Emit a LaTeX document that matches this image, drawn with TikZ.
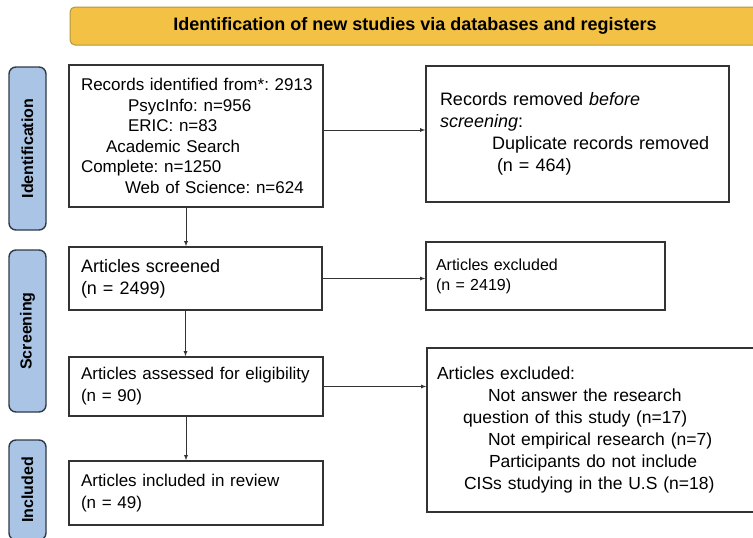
\documentclass[tikz,border=0pt]{standalone}
\usepackage{fontspec}
\setmainfont{Liberation Sans}
\usetikzlibrary{calc}

\definecolor{bannerfill}{HTML}{F3C244}
\definecolor{bannerline}{HTML}{B3963A}
\definecolor{tabfill}{HTML}{A9C4E4}
\definecolor{tabline}{HTML}{2F3A48}
\definecolor{boxline}{HTML}{333333}

\begin{document}
\frenchspacing
\begin{tikzpicture}[x=1pt,y=-1pt,
    box/.style={draw=boxline,line width=1.4pt,fill=white,align=left,
      inner xsep=10pt,font=\fontsize{17}{22}\selectfont},
    tab/.style={draw=tabline,fill=tabfill,line width=1.4pt,rounded corners=7pt,
      minimum height=37pt,rotate=90,font=\fontsize{16}{18}\selectfont\bfseries},
    flow/.style={draw=boxline,line width=0.8pt,-latex}]
  \useasboundingbox (0,0) rectangle (753,538);
  \clip (0,0) rectangle (753,538);

  \node[draw=bannerline,fill=bannerfill,line width=1pt,rounded corners=5pt,
    minimum width=690pt,minimum height=38pt,font=\fontsize{18}{20}\selectfont\bfseries]
    (banner) at (415,26) {Identification of new studies via databases and registers};

  \node[tab,minimum width=163pt] (identtab) at (27.5,148.5) {Identification};
  \node[tab,minimum width=162pt] (screentab) at (27.5,331) {Screening};
  \node[tab,minimum width=100pt] (incltab) at (27.5,490) {Included};

  \node[box,text width=234pt,minimum height=142pt,font=\fontsize{17}{20.5}\selectfont]
    (records) at (196,136) {\hspace*{2pt}Records identified from*: 2913\\
    \hspace*{49pt}PsycInfo: n=956\\
    \hspace*{49pt}ERIC: n=83\\
    \hspace*{27pt}Academic Search\\
    \hspace*{2pt}Complete: n=1250\\
    \hspace*{46pt}Web of Science: n=624};
  \node[box,text width=283pt,minimum height=136pt,font=\fontsize{18}{22}\selectfont]
    (removed) at (577.5,134) {\hspace*{4pt}Records removed \textit{before}\\
    \hspace*{4pt}\textit{screening}:\\
    \hspace*{56pt}Duplicate records removed\\
    \hspace*{61pt}(n = 464)};

  \node[box,text width=233pt,minimum height=63pt,font=\fontsize{18}{22}\selectfont]
    (screened) at (195.5,278.5) {\hspace*{2pt}Articles screened\\\hspace*{2pt}(n = 2499)};
  \node[box,text width=219pt,minimum height=68pt,font=\fontsize{16}{20}\selectfont]
    (excluded) at (545.5,276) {Articles excluded\\(n = 2419)};

  \node[box,text width=234pt,minimum height=59pt] (assessed) at (196,386.5)
    {\hspace*{2pt}Articles assessed for eligibility\\\hspace*{2pt}(n = 90)};
  \node[box,text width=318pt,minimum height=164pt,font=\fontsize{17.5}{22}\selectfont]
    (reasons) at (596,430)
    {Articles excluded:\\
    \hspace*{51pt}Not answer the research\\
    \hspace*{26pt}question of this study (n=17)\\
    \hspace*{51pt}Not empirical research (n=7)\\
    \hspace*{52pt}Participants do not include\\
    \hspace*{27pt}CISs studying in the U.S (n=18)};

  \node[box,text width=234pt,minimum height=64pt] (included) at (196,493)
    {\hspace*{2pt}Articles included in review\\\hspace*{2pt}(n = 49)};

  \draw[flow] ([yshift=6pt]records.east) -- ([yshift=6pt]records.east -| removed.west);
  \draw[flow] ([xshift=-10pt]records.south) -- ([xshift=-10pt]records.south |- screened.north);
  \draw[flow] (screened.east) -- (screened.east -| excluded.west);
  \draw[flow] ([xshift=-10pt]screened.south) -- ([xshift=-10pt]screened.south |- assessed.north);
  \draw[flow] (assessed.east) -- (assessed.east -| reasons.west);
  \draw[flow] ([xshift=-10pt]assessed.south) -- ([xshift=-10pt]assessed.south |- included.north);
\end{tikzpicture}
\end{document}
